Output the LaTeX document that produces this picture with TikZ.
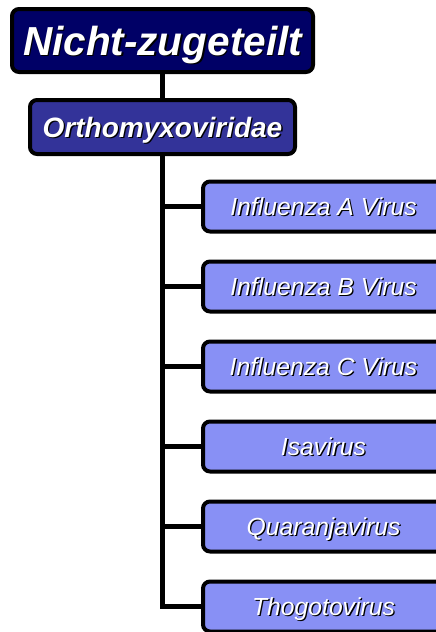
\documentclass[tikz,border=0pt]{standalone}
\usepackage{fontspec}
\setmainfont{Liberation Sans}
\usetikzlibrary{calc}
\definecolor{topblue}{RGB}{0,0,102}
\definecolor{famblue}{RGB}{51,51,153}
\definecolor{virblue}{RGB}{136,144,245}
\newcommand{\shadowtxt}[1]{\rlap{\hspace{1.3pt}\raisebox{-1.3pt}{\color{black}#1}}#1}
\newcommand{\virnode}[4]{\node[virbox] (#1) at ( #2 , #3 ) {\shadowtxt{#4}};}

\tikzset{
    orgbox/.style={draw=black, line width=4pt, rounded corners=7pt, text=white, inner sep=0pt},
    topbox/.style={orgbox, fill=topblue, minimum width=301pt, minimum height=63pt,
        text height=29pt, text depth=0pt, font=\bfseries\itshape\fontsize{40.5}{44}\selectfont},
    fambox/.style={orgbox, fill=famblue, minimum width=265pt, minimum height=54pt,
        text height=20pt, text depth=0pt, font=\bfseries\itshape\fontsize{28}{32}\selectfont},
    virbox/.style={orgbox, fill=virblue, minimum width=241pt, minimum height=50pt,
        text height=17.6pt, text depth=0pt, font=\itshape\fontsize{24.7}{28}\selectfont},
    trunk/.style={draw=black, line width=4.5pt}
}

\begin{document}
\begin{tikzpicture}[x=1pt,y=-1pt]
        \clip (0,0) rectangle (436,632);

        \node[topbox] (top) at (162.5,40.5) {\shadowtxt{Nicht-zugeteilt}};
        \node[fambox] (fam) at (162.5,127) {\shadowtxt{Orthomyxoviridae}};

        \virnode{infa}{323.5}{206.5}{Influenza A Virus}
        \virnode{infb}{323.5}{286.5}{Influenza B Virus}
        \virnode{infc}{323.5}{366.5}{Influenza C Virus}
        \virnode{isa}{323.5}{446.5}{Isavirus}
        \virnode{quar}{323.5}{526.5}{Quaranjavirus}
        \virnode{thog}{323.5}{606.5}{Thogotovirus}

        \draw[trunk] (top) -- (fam);
        \draw[trunk] (fam.south) |- (thog.west);
        \draw[trunk] (fam.south |- infa.west) -- (infa.west);
        \draw[trunk] (fam.south |- infb.west) -- (infb.west);
        \draw[trunk] (fam.south |- infc.west) -- (infc.west);
        \draw[trunk] (fam.south |- isa.west) -- (isa.west);
        \draw[trunk] (fam.south |- quar.west) -- (quar.west);
\end{tikzpicture}
\end{document}
